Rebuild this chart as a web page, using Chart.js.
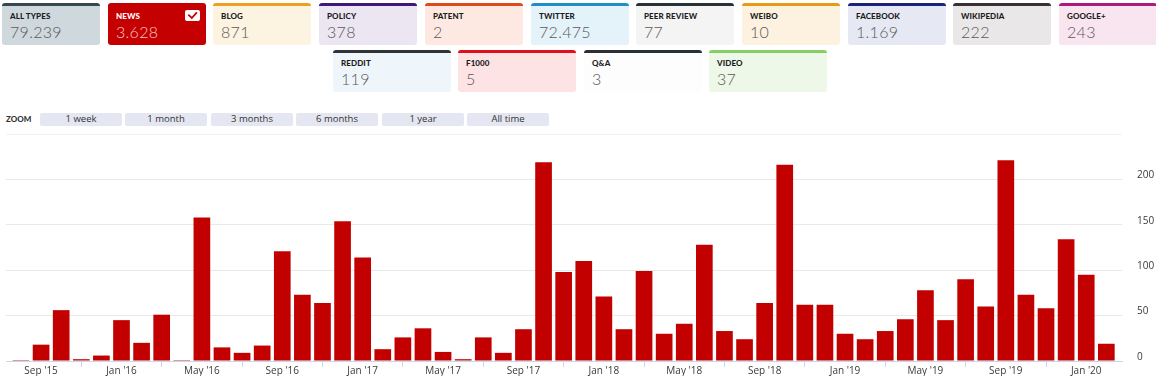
<!DOCTYPE html>
<html>
<head>
<meta charset="utf-8">
<script src="https://cdn.jsdelivr.net/npm/chart.js@4.4.1/dist/chart.umd.min.js"></script>
<style>
  html, body { margin: 0; padding: 0; background: #fff; width: 1156px; height: 376px; overflow: hidden; }
  body { position: relative; font-family: Lato, "Open Sans", sans-serif; }
  .tile { position: absolute; box-sizing: border-box; border-radius: 3px; border-top: 3px solid; }
  .tile .lbl { position: absolute; left: 8px; top: 5px; font-size: 8px; font-weight: 900; color: #1d1d1d; letter-spacing: 0.1px; }
  .tile .val { position: absolute; left: 8px; top: 16px; font-size: 16px; font-weight: 300; color: #5a5a5a; letter-spacing: 0.3px; }
  .tile.sel .lbl { color: #fff; }
  .tile.sel .val { color: #f7c9c9; }
  .chk { position: absolute; left: 77px; top: 4px; width: 15px; height: 11px; background: #fff; border-radius: 2px; }
  .chk svg { display: block; }
  .zoomlbl { position: absolute; left: 6px; top: 113px; font-size: 8px; font-weight: 900; color: #333; line-height: 12px; }
  .zbtn { position: absolute; top: 113px; height: 13px; width: 82px; background: #e4e6f1; border-radius: 2px; font-family: "Open Sans", sans-serif; font-size: 9.5px; color: #333; text-align: center; line-height: 12px; }
  #wrap { position: absolute; left: 0; top: 120px; width: 1156px; height: 256px; }
  #wrap canvas { display: block; }
</style>
</head>
<body>
<div id="tiles"></div>
<div class="zoomlbl">ZOOM</div>
<div id="zooms"></div>
<div id="wrap"><canvas id="c" width="1156" height="256"></canvas></div>
<script>
// ---- data ----
const categories = [
  "Aug '15","Sep '15","Oct '15","Nov '15","Dec '15",
  "Jan '16","Feb '16","Mar '16","Apr '16","May '16","Jun '16","Jul '16","Aug '16","Sep '16","Oct '16","Nov '16","Dec '16",
  "Jan '17","Feb '17","Mar '17","Apr '17","May '17","Jun '17","Jul '17","Aug '17","Sep '17","Oct '17","Nov '17","Dec '17",
  "Jan '18","Feb '18","Mar '18","Apr '18","May '18","Jun '18","Jul '18","Aug '18","Sep '18","Oct '18","Nov '18","Dec '18",
  "Jan '19","Feb '19","Mar '19","Apr '19","May '19","Jun '19","Jul '19","Aug '19","Sep '19","Oct '19","Nov '19","Dec '19",
  "Jan '20","Feb '20"
];
const newsCounts = [
  1, 18, 56, 2, 6,
  45, 20, 51, 1, 158, 15, 9, 17, 121, 73, 64, 154,
  114, 13, 26, 36, 10, 2, 26, 9, 35, 219, 98, 110,
  71, 35, 99, 30, 41, 128, 33, 24, 64, 216, 62, 62,
  30, 24, 33, 46, 78, 45, 90, 60, 221, 73, 58, 134,
  95, 19
];
const xTickLabels = [
  "Sep '15","Jan '16","May '16","Sep '16","Jan '17","May '17","Sep '17",
  "Jan '18","May '18","Sep '18","Jan '19","May '19","Sep '19","Jan '20"
];
const yTickValues = [0, 50, 100, 150, 200, 250];

const tileNames  = ["ALL TYPES","NEWS","BLOG","POLICY","PATENT","TWITTER","PEER REVIEW","WEIBO","FACEBOOK","WIKIPEDIA","GOOGLE+","REDDIT","F1000","Q&A","VIDEO"];
const tileValues = ["79.239","3.628","871","378","2","72.475","77","10","1.169","222","243","119","5","3","37"];
const tileTop    = ["#37474f","#c40000","#f0a021","#3d1a78","#de4a1a","#1e8fc6","#263238","#e89a16","#1a237e","#3b2f35","#ad1a7e","#2f3439","#e0101a","#2a3035","#86cf66"];
const tileBg     = ["#cfd8dc","#c40000","#fdf3e1","#ebe6f2","#fde9e1","#e4f2f9","#f4f4f4","#fdf1df","#e6e9f3","#eae7e9","#f8e5ef","#eef6fb","#fde3e3","#fdfdfd","#eef8e8"];
const zoomButtons = ["1 week","1 month","3 months","6 months","1 year","All time"];

// ---- header tiles ----
const tilesEl = document.getElementById('tiles');
tileNames.forEach((n, i) => {
  const d = document.createElement('div');
  d.className = 'tile' + (i === 1 ? ' sel' : '');
  let left, top, w, h;
  if (i < 11) { left = 2 + Math.round(i * 105.7); top = 3; w = 98; h = 42; }
  else { left = 333 + Math.round((i - 11) * 125.3); top = 50; w = 118; h = 42; }
  Object.assign(d.style, { left: left + 'px', top: top + 'px', width: w + 'px', height: h + 'px',
    background: tileBg[i], borderTopColor: tileTop[i] });
  const l = document.createElement('div'); l.className = 'lbl'; l.textContent = n;
  const v = document.createElement('div'); v.className = 'val'; v.textContent = tileValues[i];
  d.appendChild(l); d.appendChild(v);
  if (i === 1) {
    const c = document.createElement('div'); c.className = 'chk';
    c.innerHTML = '<svg width="15" height="11" viewBox="0 0 15 11"><path d="M4 5.3 L6.8 8 L11.3 3" fill="none" stroke="#c40000" stroke-width="1.8" stroke-linecap="square"/></svg>';
    d.appendChild(c);
  }
  tilesEl.appendChild(d);
});
const zEl = document.getElementById('zooms');
zoomButtons.forEach((t, i) => {
  const b = document.createElement('div');
  b.className = 'zbtn';
  b.style.left = (40 + Math.round(i * 85.4)) + 'px';
  b.textContent = t;
  zEl.appendChild(b);
});

// ---- chart ----
const barData = newsCounts.map((v, i) => ({ x: i, y: v }));
const xTickIdx = xTickLabels.map(l => categories.indexOf(l));

new Chart(document.getElementById('c'), {
  type: 'bar',
  data: {
    datasets: [{
      data: barData,
      backgroundColor: '#c30000',
      borderWidth: 0,
      barPercentage: 0.83,
      categoryPercentage: 1.0
    }]
  },
  options: {
    responsive: false,
    animation: false,
    devicePixelRatio: 1,
    layout: { padding: { left: 6, top: 14, right: 0, bottom: 0 } },
    plugins: { legend: { display: false }, tooltip: { enabled: false } },
    scales: {
      x: {
        type: 'linear',
        offset: false,
        min: -0.746,
        max: 54.78,
        afterBuildTicks: (s) => { s.ticks = xTickIdx.map(v => ({ value: v })); },
        afterFit: (s) => { s.height = 15; },
        grid: { drawOnChartArea: false, drawTicks: true, tickLength: 6, color: '#ccd6eb' },
        border: { display: true, color: '#ccd6eb' },
        ticks: {
          autoSkip: false, maxRotation: 0, padding: -2,
          font: { family: 'Open Sans', size: 10 }, color: '#3a3a3a',
          callback: (v) => categories[v]
        }
      },
      y: {
        position: 'right',
        min: 0,
        max: 250,
        afterBuildTicks: (s) => { s.ticks = yTickValues.map(v => ({ value: v })); },
        afterFit: (s) => { s.width = 34; },
        grid: {
          drawTicks: true, tickLength: 15, tickColor: 'rgba(0,0,0,0)',
          color: (ctx) => (ctx.tick && ctx.tick.value === 250) ? '#f3f3f3' : '#e9e9e9'
        },
        border: { display: false },
        ticks: {
          padding: 0, labelOffset: -4,
          font: { family: 'Open Sans', size: 10 }, color: '#3a3a3a',
          callback: (v) => v === 250 ? '' : v
        }
      }
    }
  }
});
</script>
</body>
</html>
